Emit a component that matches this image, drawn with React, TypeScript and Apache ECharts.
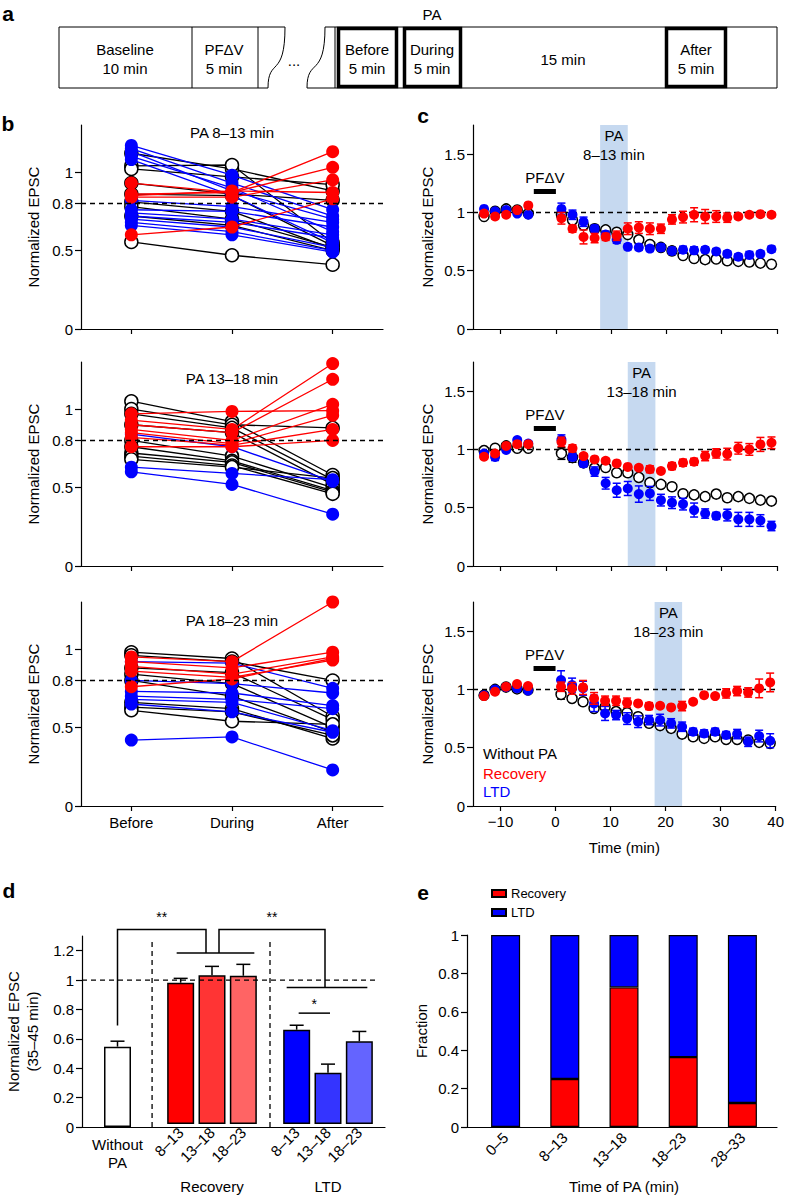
import React, { useEffect, useRef } from 'react';
import * as echarts from 'echarts';

const FONT = "'Liberation Sans', Arial, Helvetica, sans-serif";
const RED = '#ff0000';
const BLUE = '#0000ff';
const SHADE = '#c6d9f0';

// ---------- panel b data (Before, During, After) ----------
const bCategories = ['Before', 'During', 'After'];
const bTicks = [0, 0.5, 0.8, 1];
const bTitles = ['PA 8–13 min', 'PA 13–18 min', 'PA 18–23 min'];

const b1Black = [
  [1.12, 1.02, 0.88], [1.04, 1.045, 0.55], [1.02, 0.97, 0.92], [0.93, 0.86, 0.82], [0.86, 0.85, 0.53],
  [0.81, 0.75, 0.51], [0.78, 0.7, 0.52], [0.72, 0.66, 0.5], [0.555, 0.47, 0.41],
];
const b1Blue = [
  [1.17, 0.98, 0.76], [1.15, 0.93, 0.72], [1.13, 0.88, 0.7], [1.1, 0.9, 0.62], [1.08, 0.85, 0.55],
  [0.82, 0.78, 0.68], [0.76, 0.75, 0.65], [0.74, 0.7, 0.6], [0.72, 0.68, 0.58], [0.7, 0.65, 0.52],
  [0.68, 0.62, 0.5], [0.66, 0.6, 0.49],
];
const b1Red = [
  [0.93, 0.87, 1.13], [0.86, 0.87, 1.03], [0.84, 0.84, 0.95], [0.85, 0.88, 0.87], [0.6, 0.65, 0.83],
];

const b2Black = [
  [1.05, 0.92, 0.58], [1.0, 0.9, 0.88], [0.97, 0.88, 0.55], [0.9, 0.85, 0.52], [0.8, 0.7, 0.5],
  [0.76, 0.67, 0.48], [0.72, 0.66, 0.47], [0.7, 0.64, 0.46], [0.68, 0.63, 0.56],
];
const b2Blue = [
  [0.84, 0.76, 0.54], [0.63, 0.59, 0.55], [0.6, 0.52, 0.33],
];
const b2Red = [
  [0.97, 0.985, 0.99], [0.93, 0.87, 1.29], [0.9, 0.85, 1.19], [0.87, 0.8, 1.03], [0.85, 0.78, 0.96],
  [0.82, 0.77, 0.87], [0.76, 0.76, 0.8],
];

const b3Black = [
  [0.98, 0.94, 0.57], [0.96, 0.92, 0.8], [0.88, 0.85, 0.55], [0.84, 0.78, 0.5], [0.8, 0.7, 0.47],
  [0.66, 0.62, 0.43], [0.63, 0.6, 0.45], [0.61, 0.54, 0.52],
];
const b3Blue = [
  [0.92, 0.91, 0.75], [0.8, 0.78, 0.72], [0.73, 0.72, 0.64], [0.7, 0.68, 0.62], [0.68, 0.66, 0.48],
  [0.65, 0.6, 0.47], [0.42, 0.44, 0.23],
];
const b3Red = [
  [0.95, 0.92, 1.3], [0.92, 0.88, 0.98], [0.89, 0.84, 0.95], [0.86, 0.82, 0.93], [0.76, 0.81, 0.94],
];

// ---------- panel c data ----------
const cTimes = [-13, -11, -9, -7, -5, 1, 3, 5, 7, 9, 11, 13, 15, 17, 19, 21, 23, 25, 27, 29, 31, 33, 35, 37, 39];
const cXTicks = [-10, 0, 10, 20, 30, 40];
const cYTicks = [0, 0.5, 1, 1.5];
const cPA = [[8, 13], [13, 18], [18, 23]];
const cPALabels = ['PA\n8–13 min', 'PA\n13–18 min', 'PA\n18–23 min'];
const cPFdV = [-4, 0];
const cPFdVLevel = 1.18;

const c1Black = [0.965, 1.01, 1.03, 1.02, 0.99, 0.98, 0.935, 0.89, 0.86, 0.85, 0.83, 0.81, 0.765, 0.725, 0.7, 0.67, 0.63, 0.605, 0.595, 0.6, 0.585, 0.58, 0.575, 0.565, 0.555];
const c1BlackErr = [0.02, 0.015, 0.015, 0.015, 0.015, 0.03, 0.03, 0.03, 0.03, 0.025, 0.025, 0.025, 0.025, 0.025, 0.03, 0.03, 0.03, 0.03, 0.03, 0.025, 0.025, 0.025, 0.03, 0.025, 0.025];
const c1Blue = [1.03, 1.01, 1.02, 0.99, 0.98, 1.03, 0.98, 0.92, 0.86, 0.81, 0.765, 0.705, 0.7, 0.69, 0.7, 0.67, 0.68, 0.675, 0.68, 0.665, 0.645, 0.62, 0.635, 0.645, 0.685];
const c1BlueErr = [0.02, 0.015, 0.015, 0.015, 0.015, 0.05, 0.04, 0.04, 0.03, 0.03, 0.03, 0.025, 0.025, 0.025, 0.03, 0.03, 0.03, 0.03, 0.025, 0.025, 0.025, 0.025, 0.03, 0.025, 0.025];
const c1Red = [0.99, 0.965, 0.98, 1.02, 1.06, 0.95, 0.86, 0.79, 0.78, 0.79, 0.8, 0.86, 0.87, 0.86, 0.86, 0.94, 0.96, 0.98, 0.965, 0.965, 0.955, 0.965, 0.98, 0.985, 0.98];
const c1RedErr = [0.02, 0.02, 0.02, 0.02, 0.02, 0.05, 0.03, 0.06, 0.04, 0.03, 0.04, 0.05, 0.05, 0.05, 0.04, 0.04, 0.05, 0.06, 0.06, 0.05, 0.04, 0.02, 0.02, 0.02, 0.02];

const c2Black = [0.99, 1.01, 1.03, 1.01, 1.01, 0.965, 0.93, 0.885, 0.84, 0.845, 0.8, 0.8, 0.76, 0.715, 0.7, 0.68, 0.62, 0.61, 0.595, 0.617, 0.585, 0.595, 0.58, 0.565, 0.557];
const c2BlackErr = [0.02, 0.015, 0.015, 0.015, 0.015, 0.05, 0.04, 0.03, 0.03, 0.03, 0.03, 0.03, 0.03, 0.03, 0.03, 0.03, 0.03, 0.03, 0.03, 0.03, 0.03, 0.03, 0.03, 0.03, 0.025];
const c2Blue = [0.965, 0.935, 0.995, 1.08, 1.05, 1.085, 0.935, 0.88, 0.81, 0.71, 0.65, 0.665, 0.617, 0.623, 0.565, 0.543, 0.531, 0.48, 0.45, 0.43, 0.437, 0.4, 0.4, 0.39, 0.343];
const c2BlueErr = [0.02, 0.03, 0.02, 0.02, 0.02, 0.04, 0.03, 0.03, 0.04, 0.05, 0.06, 0.06, 0.07, 0.06, 0.05, 0.05, 0.05, 0.06, 0.04, 0.03, 0.05, 0.06, 0.06, 0.05, 0.04];
const c2Red = [0.937, 0.965, 1.03, 1.045, 1.045, 1.065, 1.01, 0.943, 0.914, 0.903, 0.88, 0.85, 0.843, 0.83, 0.815, 0.857, 0.886, 0.894, 0.943, 0.966, 0.96, 1.01, 1.0, 1.043, 1.057];
const c2RedErr = [0.02, 0.02, 0.02, 0.02, 0.02, 0.04, 0.03, 0.02, 0.02, 0.02, 0.02, 0.02, 0.02, 0.03, 0.02, 0.03, 0.03, 0.03, 0.04, 0.04, 0.05, 0.05, 0.05, 0.06, 0.05];

const c3Black = [0.95, 1.0, 1.02, 1.005, 0.995, 0.957, 0.923, 0.894, 0.837, 0.85, 0.81, 0.8, 0.766, 0.71, 0.69, 0.666, 0.617, 0.594, 0.58, 0.594, 0.571, 0.571, 0.566, 0.546, 0.537];
const c3BlackErr = [0.02, 0.015, 0.015, 0.015, 0.015, 0.04, 0.03, 0.03, 0.03, 0.03, 0.03, 0.03, 0.03, 0.03, 0.03, 0.03, 0.03, 0.025, 0.025, 0.025, 0.025, 0.025, 0.025, 0.025, 0.025];
const c3Blue = [0.95, 1.0, 1.02, 1.01, 0.99, 1.08, 1.037, 1.01, 0.88, 0.794, 0.78, 0.75, 0.723, 0.737, 0.737, 0.709, 0.68, 0.637, 0.623, 0.637, 0.609, 0.617, 0.551, 0.6, 0.56];
const c3BlueErr = [0.02, 0.02, 0.02, 0.02, 0.02, 0.08, 0.06, 0.06, 0.07, 0.06, 0.04, 0.05, 0.05, 0.04, 0.05, 0.04, 0.04, 0.03, 0.03, 0.03, 0.03, 0.04, 0.04, 0.05, 0.06];
const c3Red = [0.943, 0.98, 1.023, 1.046, 1.029, 1.023, 1.009, 1.017, 0.923, 0.903, 0.903, 0.886, 0.88, 0.857, 0.86, 0.846, 0.857, 0.894, 0.951, 0.943, 0.966, 0.986, 0.974, 1.009, 1.06];
const c3RedErr = [0.02, 0.02, 0.02, 0.02, 0.02, 0.04, 0.05, 0.06, 0.05, 0.04, 0.04, 0.04, 0.02, 0.03, 0.02, 0.02, 0.04, 0.02, 0.02, 0.02, 0.04, 0.04, 0.04, 0.08, 0.08];

// ---------- panel d data ----------
const dTicks = [0, 0.2, 0.4, 0.6, 0.8, 1, 1.2];
const dWithoutCats = ['Without PA'];
const dWithoutMean = [0.547];
const dWithoutErr = [0.037];
const dCats = ['8–13', '13–18', '18–23'];
const dRecMean = [0.977, 1.029, 1.025];
const dRecErr = [0.03, 0.061, 0.079];
const dLtdMean = [0.652, 0.355, 0.572];
const dLtdErr = [0.031, 0.059, 0.068];
const dRecColors = ['#ff0000', '#ff3434', '#ff6464'];
const dLtdColors = ['#0000ff', '#3434ff', '#6464ff'];

// ---------- panel e data ----------
const eCats = ['0–5', '8–13', '13–18', '18–23', '28–33'];
const eRecovery = [0, 0.25, 0.727, 0.364, 0.125];
const eLTD = [1, 0.75, 0.273, 0.636, 0.875];

const AX = { color: '#000', width: 1.2 };
const LBL = { color: '#000', fontSize: 15, fontFamily: FONT };
const NAME = { color: '#000', fontSize: 15, fontFamily: FONT };

function T(x: number, y: number, text: string, o: any = {}) {
  const size = o.size || 15;
  return {
    type: 'text', x, y, silent: true, z: 50,
    style: {
      text, fill: o.fill || '#000',
      font: `${o.bold ? 'bold ' : ''}${size}px ${FONT}`,
      textAlign: o.align || 'center', textVerticalAlign: 'middle',
      align: o.align || 'center', verticalAlign: 'middle',
      lineHeight: o.lineHeight,
    },
  };
}
function L(x1: number, y1: number, x2: number, y2: number, w = 1, dash?: number[]) {
  return {
    type: 'line', silent: true, z: 50,
    shape: { x1, y1, x2, y2 },
    style: { stroke: '#000', lineWidth: w, lineDash: dash },
  };
}
function PL(points: number[][], w = 1.5) {
  return { type: 'polyline', silent: true, z: 50, shape: { points }, style: { stroke: '#000', fill: 'none', lineWidth: w } };
}
function BZ(x1: number, y1: number, x2: number, y2: number) {
  return {
    type: 'bezierCurve', silent: true, z: 50,
    shape: { x1, y1, cpx1: x1, cpy1: y1 + 52, cpx2: x2, cpy2: y1 + 30, x2, y2 },
    style: { stroke: '#000', fill: 'none', lineWidth: 1 },
  };
}
function RT(x: number, y: number, w: number, h: number, lw: number) {
  return { type: 'rect', silent: true, z: 50, shape: { x, y, width: w, height: h }, style: { stroke: '#000', fill: 'none', lineWidth: lw } };
}

function errRender(color: string, cap: number, upOnly: boolean) {
  return (params: any, api: any) => {
    const x = api.value(0);
    const m = api.value(1);
    const e = api.value(2);
    const hi = api.coord([x, m + e]);
    const lo = api.coord([x, upOnly ? m : m - e]);
    const st = { stroke: color, lineWidth: 1.5 };
    const ch: any[] = [
      { type: 'line', shape: { x1: hi[0], y1: hi[1], x2: lo[0], y2: lo[1] }, style: st },
      { type: 'line', shape: { x1: hi[0] - cap, y1: hi[1], x2: hi[0] + cap, y2: hi[1] }, style: st },
    ];
    if (!upOnly) ch.push({ type: 'line', shape: { x1: lo[0] - cap, y1: lo[1], x2: lo[0] + cap, y2: lo[1] }, style: st });
    return { type: 'group', children: ch };
  };
}

export default function App() {
  const ref = useRef<HTMLDivElement>(null);
  useEffect(() => {
    const chart = echarts.init(ref.current!, null, { renderer: 'svg' });
    const grid: any[] = [];
    const xAxis: any[] = [];
    const yAxis: any[] = [];
    const series: any[] = [];

    // ---------- panel b ----------
    const bTops = [125, 362, 602];
    const bData = [[b1Black, b1Blue, b1Red], [b2Black, b2Blue, b2Red], [b3Black, b3Blue, b3Red]];
    bTops.forEach((top, i) => {
      grid.push({ left: 81, top, width: 302, height: 204 });
      xAxis.push({
        type: 'category', gridIndex: i, data: bCategories, boundaryGap: true,
        axisLine: { show: true, onZero: false, lineStyle: AX },
        axisTick: { show: true, alignWithLabel: true, length: 5, lineStyle: AX },
        axisLabel: { show: i === 2, ...LBL, margin: 9 },
        splitLine: { show: false },
      });
      yAxis.push({
        type: 'value', gridIndex: i, min: 0, max: 1.3,
        axisLine: { show: true, onZero: false, lineStyle: AX },
        axisTick: { show: true, length: 6, customValues: bTicks, lineStyle: AX },
        axisLabel: { ...LBL, customValues: bTicks, margin: 8 },
        splitLine: { show: false },
        name: 'Normalized EPSC', nameLocation: 'middle', nameGap: 40, nameTextStyle: NAME,
      });
      series.push({
        type: 'line', xAxisIndex: i, yAxisIndex: i, data: [], z: 1, silent: true,
        markLine: {
          silent: true, symbol: ['none', 'none'], label: { show: false },
          lineStyle: { color: '#000', type: [5, 4], width: 1.3 },
          data: [{ yAxis: 0.8 }],
        },
      });
      const [blk, blu, rd] = bData[i];
      const add = (cells: number[][], line: string, fill: string, border: string, bw: number, z: number) =>
        cells.forEach((c) =>
          series.push({
            type: 'line', xAxisIndex: i, yAxisIndex: i, data: c, z, silent: true,
            symbol: 'circle', symbolSize: 13, showAllSymbol: true,
            lineStyle: { color: line, width: 1.3 },
            itemStyle: { color: fill, borderColor: border, borderWidth: bw },
          })
        );
      add(blk, '#000', '#fff', '#000', 1.5, 2);
      add(blu, BLUE, BLUE, BLUE, 0, 3);
      add(rd, RED, RED, RED, 0, 4);
    });

    // ---------- panel c ----------
    const cData = [
      [c1Black, c1BlackErr, c1Blue, c1BlueErr, c1Red, c1RedErr],
      [c2Black, c2BlackErr, c2Blue, c2BlueErr, c2Red, c2RedErr],
      [c3Black, c3BlackErr, c3Blue, c3BlueErr, c3Red, c3RedErr],
    ];
    bTops.forEach((top, k) => {
      const i = 3 + k;
      grid.push({ left: 473, top, width: 304, height: 204 });
      xAxis.push({
        type: 'value', gridIndex: i, min: -15, max: 40,
        axisLine: { show: true, onZero: false, lineStyle: AX },
        axisTick: { show: true, length: 5, customValues: cXTicks, lineStyle: AX },
        axisLabel: {
          show: k === 2, ...LBL, customValues: cXTicks, margin: 8,
          formatter: (v: number) => (v < 0 ? '\u2212' + Math.abs(v) : String(v)),
        },
        splitLine: { show: false },
        name: k === 2 ? 'Time (min)' : '', nameLocation: 'middle', nameGap: 34, nameTextStyle: NAME,
      });
      yAxis.push({
        type: 'value', gridIndex: i, min: 0, max: 1.75,
        axisLine: { show: true, onZero: false, lineStyle: AX },
        axisTick: { show: true, length: 6, customValues: cYTicks, lineStyle: AX },
        axisLabel: { ...LBL, customValues: cYTicks, margin: 8 },
        splitLine: { show: false },
        name: 'Normalized EPSC', nameLocation: 'middle', nameGap: 38, nameTextStyle: NAME,
      });
      series.push({
        type: 'line', xAxisIndex: i, yAxisIndex: i, data: [], z: 1, silent: true,
        markArea: {
          silent: true,
          itemStyle: { color: SHADE },
          label: { show: true, position: 'insideTop', distance: 1, color: '#000', fontSize: 15, lineHeight: 19, fontFamily: FONT },
          data: [[{ xAxis: cPA[k][0], name: cPALabels[k] }, { xAxis: cPA[k][1] }]],
        },
      });
      series.push({
        type: 'line', xAxisIndex: i, yAxisIndex: i, data: [], z: 2, silent: true,
        markLine: {
          silent: true, symbol: ['none', 'none'],
          data: [
            { yAxis: 1, label: { show: false }, lineStyle: { color: '#000', type: [5, 4], width: 1.3 } },
            [
              {
                coord: [cPFdV[0], cPFdVLevel],
                lineStyle: { color: '#000', type: 'solid', width: 5 },
                label: { show: true, position: 'insideMiddleTop', distance: 6, formatter: 'PF\u0394V', color: '#000', fontSize: 15, fontFamily: FONT },
              },
              { coord: [cPFdV[1], cPFdVLevel] },
            ],
          ],
        },
      });
      const [bk, bkE, bl, blE, rd, rdE] = cData[k];
      const grp = (m: number[], e: number[], color: string, fill: string, border: string, z: number) => {
        series.push({
          type: 'custom', xAxisIndex: i, yAxisIndex: i, z, silent: true,
          data: cTimes.map((t, j) => [t, m[j], e[j]]),
          encode: { x: 0, y: 1 },
          renderItem: errRender(color, 4, false),
        });
        series.push({
          type: 'scatter', xAxisIndex: i, yAxisIndex: i, z: z + 1, silent: true,
          data: cTimes.map((t, j) => [t, m[j]]),
          symbol: 'circle', symbolSize: 10,
          itemStyle: { color: fill, borderColor: border, borderWidth: fill === '#fff' ? 1.5 : 0, opacity: 1 },
        });
      };
      grp(bk, bkE, '#000', '#fff', '#000', 3);
      grp(bl, blE, BLUE, BLUE, BLUE, 5);
      grp(rd, rdE, RED, RED, RED, 7);
    });

    // ---------- panel d ----------
    const dTop = 936;
    const dH = 191;
    // 6: overlay for continuous x axis line
    grid.push({ left: 82, top: dTop, width: 303, height: dH });
    xAxis.push({
      type: 'value', gridIndex: 6, min: 0, max: 1,
      axisLine: { show: true, onZero: false, lineStyle: AX }, axisTick: { show: false }, axisLabel: { show: false }, splitLine: { show: false },
    });
    yAxis.push({ type: 'value', gridIndex: 6, min: 0, max: 1.3, show: false });
    // 7: without PA
    grid.push({ left: 82, top: dTop, width: 71, height: dH });
    xAxis.push({
      type: 'category', gridIndex: 7, data: dWithoutCats,
      axisLine: { show: false }, axisTick: { show: false },
      axisLabel: { ...LBL, lineHeight: 18, margin: 8, formatter: (v: string) => v.replace(' ', '\n') },
    });
    yAxis.push({
      type: 'value', gridIndex: 7, min: 0, max: 1.3,
      axisLine: { show: true, onZero: false, lineStyle: AX },
      axisTick: { show: true, length: 6, customValues: dTicks, lineStyle: AX },
      axisLabel: { ...LBL, customValues: dTicks, margin: 8 },
      splitLine: { show: false },
      name: 'Normalized EPSC\n(35–45 min)', nameLocation: 'middle', nameGap: 40,
      nameTextStyle: { ...NAME, lineHeight: 19 },
    });
    // 8: recovery, 9: LTD
    [[165, 'Recovery'], [281, 'LTD']].forEach(([left, name], n) => {
      const gi = 8 + n;
      grid.push({ left, top: dTop, width: 94, height: dH });
      xAxis.push({
        type: 'category', gridIndex: gi, data: dCats,
        axisLine: { show: false }, axisTick: { show: false },
        axisLabel: { ...LBL, rotate: 45, margin: 6 },
        name, nameLocation: 'middle', nameGap: 55, nameTextStyle: NAME,
      });
      yAxis.push({ type: 'value', gridIndex: gi, min: 0, max: 1.3, show: false });
    });
    const barStyle = { borderColor: '#000', borderWidth: 1.5 };
    series.push({
      type: 'bar', xAxisIndex: 7, yAxisIndex: 7, data: dWithoutMean, barWidth: 27, z: 2, silent: true,
      itemStyle: { color: '#fff', ...barStyle },
    });
    series.push({
      type: 'custom', xAxisIndex: 7, yAxisIndex: 7, z: 3, silent: true,
      data: dWithoutMean.map((v, j) => [j, v, dWithoutErr[j]]), encode: { x: 0, y: 1 },
      renderItem: errRender('#000', 7, true),
    });
    series.push({
      type: 'bar', xAxisIndex: 8, yAxisIndex: 8, barWidth: 27, z: 2, silent: true,
      data: dRecMean.map((v, j) => ({ value: v, itemStyle: { color: dRecColors[j], ...barStyle } })),
    });
    series.push({
      type: 'custom', xAxisIndex: 8, yAxisIndex: 8, z: 3, silent: true,
      data: dRecMean.map((v, j) => [j, v, dRecErr[j]]), encode: { x: 0, y: 1 },
      renderItem: errRender('#000', 7, true),
    });
    series.push({
      type: 'bar', xAxisIndex: 9, yAxisIndex: 9, barWidth: 27, z: 2, silent: true,
      data: dLtdMean.map((v, j) => ({ value: v, itemStyle: { color: dLtdColors[j], ...barStyle } })),
    });
    series.push({
      type: 'custom', xAxisIndex: 9, yAxisIndex: 9, z: 3, silent: true,
      data: dLtdMean.map((v, j) => [j, v, dLtdErr[j]]), encode: { x: 0, y: 1 },
      renderItem: errRender('#000', 7, true),
    });

    // ---------- panel e ----------
    const eTop = 935;
    const eH = 192;
    grid.push({ left: 467, top: eTop, width: 310, height: eH }); // 10 overlay
    xAxis.push({
      type: 'value', gridIndex: 10, min: 0, max: 1,
      axisLine: { show: true, onZero: false, lineStyle: AX }, axisTick: { show: false }, axisLabel: { show: false }, splitLine: { show: false },
    });
    yAxis.push({ type: 'value', gridIndex: 10, min: 0, max: 1, show: false });
    grid.push({ left: 476, top: eTop, width: 296, height: eH }); // 11
    xAxis.push({
      type: 'category', gridIndex: 11, data: eCats,
      axisLine: { show: false }, axisTick: { show: false },
      axisLabel: { ...LBL, rotate: 45, margin: 8 },
      name: 'Time of PA (min)', nameLocation: 'middle', nameGap: 52, nameTextStyle: NAME,
    });
    yAxis.push({
      type: 'value', gridIndex: 11, min: 0, max: 1, interval: 0.2, offset: 9,
      axisLine: { show: true, onZero: false, lineStyle: AX },
      axisTick: { show: true, length: 6, lineStyle: AX },
      axisLabel: { ...LBL, margin: 8 },
      splitLine: { show: false },
      name: 'Fraction', nameLocation: 'middle', nameGap: 38, nameTextStyle: NAME,
    });
    series.push({
      name: 'Recovery', type: 'bar', stack: 'e', xAxisIndex: 11, yAxisIndex: 11, data: eRecovery, barWidth: 29, silent: true,
      itemStyle: { color: RED, borderColor: '#000', borderWidth: 1.2 },
    });
    series.push({
      name: 'LTD', type: 'bar', stack: 'e', xAxisIndex: 11, yAxisIndex: 11, data: eLTD, barWidth: 29, silent: true,
      itemStyle: { color: BLUE, borderColor: '#000', borderWidth: 1.2 },
    });

    chart.setOption({
      animation: false,
      backgroundColor: '#fff',
      textStyle: { fontFamily: FONT },
      grid,
      xAxis,
      yAxis,
      series,
      legend: {
        data: ['Recovery', 'LTD'], orient: 'vertical', left: 486, top: 882,
        icon: 'rect', itemWidth: 14, itemHeight: 7, itemGap: 6,
        textStyle: { color: '#000', fontSize: 13, fontFamily: FONT },
        selectedMode: false,
      },
    });

    // ---------- graphics (schematic, titles, annotations) ----------
    const P = (ai: number, cat: any, v: number) =>
      chart.convertToPixel({ xAxisIndex: ai, yAxisIndex: ai } as any, [cat, v]) as unknown as number[];
    const yD = (v: number) => P(7, dWithoutCats[0], v)[1];
    const xW = P(7, dWithoutCats[0], 0)[0];
    const xR = dCats.map((c) => P(8, c, 0)[0]);
    const xL = dCats.map((c) => P(9, c, 0)[0]);
    const xO0 = P(6, 0, 0)[0];
    const xO1 = P(6, 0.975, 0)[0];

    const g: any[] = [];
    // panel letters
    g.push(T(8, 13, 'a', { bold: true, size: 21 }));
    g.push(T(8, 123, 'b', { bold: true, size: 21 }));
    g.push(T(423, 115, 'c', { bold: true, size: 21 }));
    g.push(T(9, 890, 'd', { bold: true, size: 21 }));
    g.push(T(423, 892, 'e', { bold: true, size: 21 }));

    // panel a schematic
    const yT = 27;
    const yB = 88;
    g.push(L(59, yT, 285, yT), L(59, yB, 268, yB), L(59, yT, 59, yB), L(192, yT, 192, yB), L(258, yT, 258, yB));
    g.push(BZ(285, yT, 268, yB));
    g.push(T(294, 60, '...'));
    g.push(BZ(325, yT, 307, yB));
    g.push(L(325, yT, 777, yT), L(307, yB, 777, yB), L(777, yT, 777, yB), L(335, yT, 335, yB));
    g.push(RT(338.5, 28.5, 58, 58, 3.5), RT(404.5, 28.5, 56, 58, 3.5), RT(666.5, 28.5, 59, 58, 3.5));
    g.push(T(125, 49, 'Baseline'), T(125, 68, '10 min'));
    g.push(T(224, 49, 'PF\u0394V'), T(224, 68, '5 min'));
    g.push(T(367, 49, 'Before'), T(367, 68, '5 min'));
    g.push(T(432, 49, 'During'), T(432, 68, '5 min'));
    g.push(T(563, 59, '15 min'));
    g.push(T(696, 49, 'After'), T(696, 68, '5 min'));
    g.push(T(432, 14, 'PA'));

    // panel b titles
    const bTitleY = [132, 378, 620];
    bTitles.forEach((t, i) => g.push(T(232, bTitleY[i], t)));

    // panel c legend
    g.push(T(483, 753, 'Without PA', { align: 'left' }));
    g.push(T(483, 773, 'Recovery', { align: 'left', fill: RED }));
    g.push(T(483, 791, 'LTD', { align: 'left', fill: BLUE }));

    // panel d annotations
    const yTop = yD(1.345);
    const yRecLine = yD(1.185);
    const yLtdLine = yD(0.95);
    g.push(L(xO0, yD(1), xO1, yD(1), 1.3, [5, 4]));
    const dv1 = (xW + xR[0]) / 2 + 3;
    const dv2 = (xR[2] + xL[0]) / 2;
    g.push(L(dv1, yD(0), dv1, yD(1.27), 1.3, [5, 4]));
    g.push(L(dv2, yD(0), dv2, yD(1.27), 1.3, [5, 4]));
    g.push(PL([[xW, yD(0.69)], [xW, yTop], [xR[1] - 6, yTop], [xR[1] - 6, yRecLine]]));
    g.push(L(xR[0] - 4, yRecLine, xR[2] + 11, yRecLine, 1.5));
    g.push(PL([[xR[1] + 7, yRecLine], [xR[1] + 7, yTop], [xL[1] - 3, yTop], [xL[1] - 3, yLtdLine]]));
    g.push(L(xL[0] - 10, yLtdLine, xL[2] + 8, yLtdLine, 1.5));
    g.push(L(xL[0] + 2, yD(0.775), xL[1] + 2, yD(0.775), 1.5));
    g.push(T((xW + xR[1] - 6) / 2, yD(1.43), '**', { size: 14 }));
    g.push(T((xR[1] + 7 + xL[1] - 3) / 2, yD(1.43), '**', { size: 14 }));
    g.push(T((xL[0] + xL[1]) / 2 + 2, yD(0.84), '*', { size: 14 }));

    chart.setOption({ graphic: g });

    return () => chart.dispose();
  }, []);
  return (
    <div
      ref={ref}
      style={{ position: 'fixed', left: 0, top: 0, width: 787, height: 1195, background: '#fff' }}
    />
  );
}
